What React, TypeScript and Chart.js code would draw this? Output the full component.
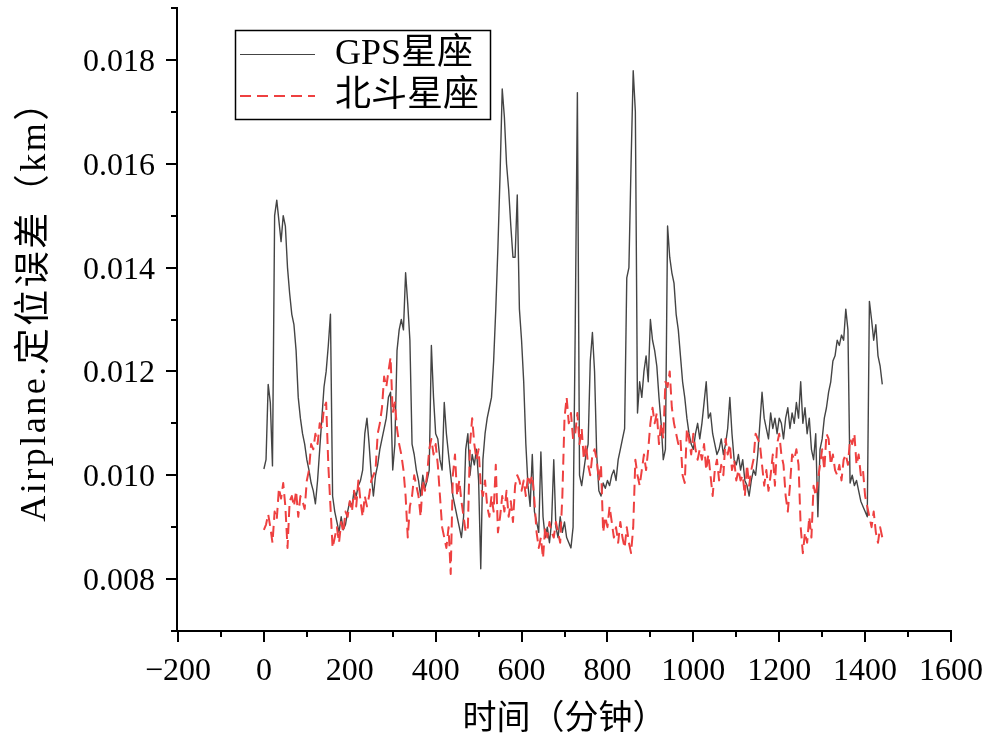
import React, { useEffect, useRef } from 'react';
import { Chart, registerables } from 'chart.js';

Chart.register(...registerables);

// sampling interval of both series (minutes)
const sampleStepMinutes = 5;

// GPS constellation positioning error (km), one value every 5 minutes, 0..1440
const gpsError = [
  0.01012, 0.01030, 0.01175, 0.01140, 0.01018, 0.01500, 0.01530, 0.01490, 0.01450, 0.01500, 0.01480, 0.01400,
  0.01350, 0.01310, 0.01290, 0.01240, 0.01150, 0.01110, 0.01080, 0.01060, 0.01030, 0.01010, 0.00985, 0.00970,
  0.00945, 0.00990, 0.01050, 0.01110, 0.01170, 0.01200, 0.01250, 0.01310, 0.00960, 0.00930, 0.00910, 0.00890,
  0.00920, 0.00895, 0.00905, 0.00930, 0.00950, 0.00940, 0.00970, 0.00960, 0.00980, 0.00990, 0.01010, 0.01080,
  0.01110, 0.01060, 0.01000, 0.00960, 0.01000, 0.01020, 0.01050, 0.01070, 0.01090, 0.01110, 0.01150, 0.01160,
  0.01010, 0.01060, 0.01240, 0.01280, 0.01300, 0.01280, 0.01390, 0.01330, 0.01260, 0.01060, 0.01040, 0.01010,
  0.00990, 0.00960, 0.01000, 0.00975, 0.00990, 0.01010, 0.01250, 0.01150, 0.01080, 0.01070, 0.01030, 0.01010,
  0.01140, 0.01080, 0.01040, 0.01000, 0.00960, 0.00940, 0.00920, 0.00900, 0.00880, 0.00920, 0.01050, 0.01080,
  0.01000, 0.01040, 0.01020, 0.01050, 0.00990, 0.00820, 0.01030, 0.01080, 0.01110, 0.01130, 0.01150, 0.01220,
  0.01320, 0.01440, 0.01580, 0.01744, 0.01690, 0.01600, 0.01550, 0.01480, 0.01420, 0.01420, 0.01540, 0.01320,
  0.01260, 0.01180, 0.01060, 0.00980, 0.00940, 0.01040, 0.00930, 0.00910, 0.00890, 0.01045, 0.00920, 0.00880,
  0.00900, 0.00870, 0.00910, 0.01030, 0.00900, 0.00880, 0.00920, 0.00890, 0.00910, 0.00880, 0.00870, 0.00860,
  0.00900, 0.01285, 0.01737, 0.01000, 0.00980, 0.01010, 0.01040, 0.01060, 0.01220, 0.01275, 0.01200, 0.01040,
  0.00970, 0.00960, 0.00985, 0.00975, 0.00990, 0.00980, 0.01000, 0.01010, 0.00990, 0.01030, 0.01050, 0.01070,
  0.01090, 0.01380, 0.01400, 0.01600, 0.01779, 0.01700, 0.01120, 0.01180, 0.01150, 0.01200, 0.01230, 0.01180,
  0.01300, 0.01260, 0.01240, 0.01210, 0.01150, 0.01100, 0.01030, 0.01050, 0.01480, 0.01420, 0.01390, 0.01370,
  0.01310, 0.01280, 0.01230, 0.01180, 0.01150, 0.01110, 0.01080, 0.01060, 0.01050, 0.01080, 0.01100, 0.01070,
  0.01100, 0.01140, 0.01180, 0.01110, 0.01120, 0.01080, 0.01060, 0.01040, 0.01050, 0.01070, 0.01040, 0.01060,
  0.01090, 0.01150, 0.01080, 0.01030, 0.01020, 0.01040, 0.01010, 0.01030, 0.00990, 0.00980, 0.00960, 0.00990,
  0.01010, 0.01000, 0.01040, 0.01100, 0.01160, 0.01110, 0.01090, 0.01070, 0.01120, 0.01090, 0.01110, 0.01080,
  0.01110, 0.01100, 0.01070, 0.01110, 0.01130, 0.01090, 0.01120, 0.01100, 0.01140, 0.01110, 0.01180, 0.01100,
  0.01130, 0.01080, 0.01110, 0.01050, 0.01030, 0.01080, 0.00920, 0.01050, 0.01070, 0.01110, 0.01130, 0.01160,
  0.01180, 0.01220, 0.01230, 0.01260, 0.01250, 0.01270, 0.01260, 0.01320, 0.01280, 0.00985, 0.01000, 0.00980,
  0.00990, 0.00970, 0.00950, 0.00940, 0.00930, 0.00920, 0.01335, 0.01300, 0.01260, 0.01290, 0.01230, 0.01210,
  0.01175,
];

// BeiDou constellation positioning error (km), one value every 5 minutes, 0..1440
const beidouError = [
  0.00895, 0.00905, 0.00925, 0.00900, 0.00870, 0.00930, 0.00915, 0.00975, 0.00955, 0.00985, 0.00940, 0.00860,
  0.00950, 0.00960, 0.00940, 0.00970, 0.00920, 0.00960, 0.00950, 0.00935, 0.00990, 0.01010, 0.01060, 0.01050,
  0.01080, 0.01060, 0.01100, 0.01090, 0.01130, 0.01140, 0.01020, 0.00940, 0.00860, 0.00880, 0.00900, 0.00870,
  0.00910, 0.00890, 0.00930, 0.00920, 0.00950, 0.00930, 0.00970, 0.00940, 0.00990, 0.00950, 0.00920, 0.00960,
  0.00940, 0.00960, 0.00990, 0.01000, 0.01010, 0.01080, 0.01100, 0.01130, 0.01190, 0.01170, 0.01200, 0.01227,
  0.01120, 0.01140, 0.01090, 0.01060, 0.01040, 0.01010, 0.00960, 0.00880, 0.00940, 0.00960, 0.01000, 0.00980,
  0.00960, 0.00920, 0.00990, 0.00970, 0.01000, 0.01050, 0.01070, 0.01040, 0.01060, 0.01020, 0.00960, 0.00900,
  0.00880, 0.00860, 0.00900, 0.00810, 0.01000, 0.01040, 0.00960, 0.00990, 0.00950, 0.00920, 0.00890, 0.00900,
  0.01060, 0.01110, 0.01060, 0.01030, 0.01050, 0.00980, 0.00960, 0.00990, 0.00940, 0.00920, 0.00960, 0.00930,
  0.01020, 0.00890, 0.00920, 0.00960, 0.00930, 0.00970, 0.00920, 0.00950, 0.00910, 0.00980, 0.01000, 0.00990,
  0.00970, 0.00990, 0.00960, 0.01000, 0.00985, 0.01000, 0.00950, 0.00890, 0.00860, 0.00880, 0.00840, 0.00900,
  0.00880, 0.00910, 0.00890, 0.00880, 0.00910, 0.00890, 0.00870, 0.00960, 0.01110, 0.01150, 0.01100, 0.01120,
  0.01070, 0.01080, 0.01120, 0.01060, 0.01090, 0.01030, 0.01060, 0.01020, 0.01000, 0.01040, 0.01050, 0.01030,
  0.00990, 0.01020, 0.00890, 0.00920, 0.00900, 0.00940, 0.00910, 0.00880, 0.00900, 0.00870, 0.00910, 0.00880,
  0.00860, 0.00900, 0.00870, 0.00850, 0.00900, 0.01030, 0.01000, 0.00980, 0.01010, 0.01040, 0.01010, 0.01050,
  0.01100, 0.01130, 0.01100, 0.01120, 0.01060, 0.01100, 0.01070, 0.01180, 0.01170, 0.01200, 0.01130, 0.01100,
  0.01080, 0.01060, 0.01070, 0.01000, 0.00985, 0.01090, 0.01070, 0.01040, 0.01080, 0.01050, 0.01030, 0.01050,
  0.01030, 0.01060, 0.01010, 0.01040, 0.01000, 0.00960, 0.01010, 0.01030, 0.00990, 0.01020, 0.01000, 0.01070,
  0.01040, 0.01060, 0.01010, 0.01030, 0.00990, 0.01010, 0.00990, 0.01000, 0.00960, 0.01020, 0.00980, 0.01010,
  0.01030, 0.01080, 0.01070, 0.01060, 0.01020, 0.00980, 0.01010, 0.00970, 0.01000, 0.01040, 0.00980, 0.01060,
  0.01080, 0.01040, 0.01020, 0.00960, 0.00930, 0.00980, 0.01040, 0.01030, 0.01050, 0.01020, 0.00900, 0.00850,
  0.00890, 0.00870, 0.00920, 0.00880, 0.00980, 0.00960, 0.00990, 0.01020, 0.01050, 0.01010, 0.01080, 0.01070,
  0.01020, 0.01040, 0.01010, 0.01000, 0.01020, 0.00990, 0.01030, 0.01040, 0.01020, 0.01070, 0.01060, 0.01080,
  0.01020, 0.01040, 0.01000, 0.01010, 0.00960, 0.00940, 0.00920, 0.00900, 0.00930, 0.00890, 0.00870, 0.00900,
  0.00880,
];

const seriesLabels = ['GPS星座', '北斗星座'];
const xMajorTicks = [-200, 0, 200, 400, 600, 800, 1000, 1200, 1400, 1600];
const xTickLabels = ['\u2212200', '0', '200', '400', '600', '800', '1000', '1200', '1400', '1600'];
const xMinorTicks = [-100, 100, 300, 500, 700, 900, 1100, 1300, 1500];
const yMajorTicks = [0.008, 0.01, 0.012, 0.014, 0.016, 0.018];
const yTickLabels = ['0.008', '0.010', '0.012', '0.014', '0.016', '0.018'];
const yMinorTicks = [0.007, 0.009, 0.011, 0.013, 0.015, 0.017, 0.019];
const xTitle = '时间（分钟）';
const yTitle = 'Airplane.定位误差（km）';

const GPS_COLOR = '#444444';
const BDS_COLOR = '#ee4040';
const BDS_DASH = [11, 6];
const LATIN_FONT = "'Liberation Serif', 'Noto Sans CJK SC', serif";

const originAxesPlugin = {
  id: 'originAxes',
  afterDatasetsDraw(chart: any) {
    const { ctx, chartArea, scales } = chart;
    const xs = scales.x;
    const ys = scales.y;
    const axisX = chartArea.left - 1;
    const axisY = chartArea.bottom;
    ctx.save();
    ctx.strokeStyle = '#000';
    ctx.fillStyle = '#000';
    ctx.lineWidth = 2;
    ctx.lineCap = 'butt';
    ctx.setLineDash([]);

    // axis lines
    ctx.beginPath();
    ctx.moveTo(axisX, chartArea.top - 1);
    ctx.lineTo(axisX, axisY + 1);
    ctx.moveTo(axisX - 1, axisY);
    ctx.lineTo(chartArea.right + 1, axisY);
    ctx.stroke();

    // ticks
    ctx.beginPath();
    yMajorTicks.forEach((v) => {
      const py = Math.round(ys.getPixelForValue(v));
      ctx.moveTo(axisX - 11, py);
      ctx.lineTo(axisX, py);
    });
    yMinorTicks.forEach((v) => {
      const py = Math.round(ys.getPixelForValue(v));
      ctx.moveTo(axisX - 6, py);
      ctx.lineTo(axisX, py);
    });
    xMajorTicks.forEach((v) => {
      const px = Math.round(xs.getPixelForValue(v));
      ctx.moveTo(px, axisY);
      ctx.lineTo(px, axisY + 11);
    });
    xMinorTicks.forEach((v) => {
      const px = Math.round(xs.getPixelForValue(v));
      ctx.moveTo(px, axisY);
      ctx.lineTo(px, axisY + 6);
    });
    ctx.stroke();

    // tick labels
    ctx.font = `32px ${LATIN_FONT}`;
    ctx.textAlign = 'right';
    ctx.textBaseline = 'alphabetic';
    yMajorTicks.forEach((v, i) => {
      ctx.fillText(yTickLabels[i], 155, ys.getPixelForValue(v) + 11);
    });
    ctx.textAlign = 'center';
    xMajorTicks.forEach((v, i) => {
      ctx.fillText(xTickLabels[i], xs.getPixelForValue(v), 680);
    });

    // axis titles
    ctx.font = "34px 'Noto Sans CJK SC', sans-serif";
    ctx.textAlign = 'center';
    ctx.textBaseline = 'middle';
    ctx.fillText(xTitle, (chartArea.left + chartArea.right) / 2, 716);

    ctx.save();
    ctx.translate(36, 302);
    ctx.rotate(-Math.PI / 2);
    ctx.font = `36px ${LATIN_FONT}`;
    ctx.textAlign = 'center';
    ctx.textBaseline = 'middle';
    try {
      (ctx as any).letterSpacing = '2.5px';
    } catch (e) {
      /* ignore */
    }
    ctx.fillText(yTitle, 0, 0);
    try {
      (ctx as any).letterSpacing = '0px';
    } catch (e) {
      /* ignore */
    }
    ctx.restore();

    // legend box
    ctx.lineWidth = 1.5;
    ctx.strokeRect(235.5, 30.5, 255, 89);
    ctx.lineWidth = 1.2;
    ctx.strokeStyle = GPS_COLOR;
    ctx.beginPath();
    ctx.moveTo(240, 54.5);
    ctx.lineTo(315, 54.5);
    ctx.stroke();
    ctx.lineWidth = 2;
    ctx.strokeStyle = BDS_COLOR;
    ctx.setLineDash(BDS_DASH);
    ctx.beginPath();
    ctx.moveTo(240, 96);
    ctx.lineTo(315, 96);
    ctx.stroke();
    ctx.setLineDash([]);
    ctx.fillStyle = '#000';
    ctx.font = `36px ${LATIN_FONT}`;
    ctx.textAlign = 'left';
    ctx.textBaseline = 'middle';
    ctx.fillText(seriesLabels[0], 335, 55);
    ctx.fillText(seriesLabels[1], 335, 97);
    ctx.restore();
  },
};

export default function App() {
  const canvasRef = useRef<HTMLCanvasElement | null>(null);

  useEffect(() => {
    const canvas = canvasRef.current;
    if (!canvas) return;
    const toPoints = (arr: number[]) => arr.map((v, i) => ({ x: i * sampleStepMinutes, y: v }));
    const chart = new Chart(canvas, {
      type: 'line',
      data: {
        datasets: [
          {
            label: seriesLabels[0],
            data: toPoints(gpsError),
            borderColor: GPS_COLOR,
            borderWidth: 1.4,
            pointRadius: 0,
            tension: 0,
            fill: false,
            borderJoinStyle: 'round',
            order: 1,
          },
          {
            label: seriesLabels[1],
            data: toPoints(beidouError),
            borderColor: BDS_COLOR,
            borderWidth: 2,
            borderDash: BDS_DASH,
            pointRadius: 0,
            tension: 0,
            fill: false,
            borderJoinStyle: 'round',
            order: 0,
          },
        ],
      },
      options: {
        animation: false,
        responsive: false,
        devicePixelRatio: 1,
        layout: { padding: { left: 178, right: 43, top: 8, bottom: 108 } },
        plugins: { legend: { display: false }, tooltip: { enabled: false } },
        scales: {
          x: { type: 'linear', min: -200, max: 1600, display: false },
          y: { type: 'linear', min: 0.007, max: 0.019, display: false },
        },
      },
      plugins: [originAxesPlugin],
    } as any);
    return () => chart.destroy();
  }, []);

  return (
    <div style={{ position: 'fixed', left: 0, top: 0, width: 994, height: 739, background: '#fff' }}>
      <canvas ref={canvasRef} width={994} height={739} style={{ display: 'block' }} />
    </div>
  );
}
